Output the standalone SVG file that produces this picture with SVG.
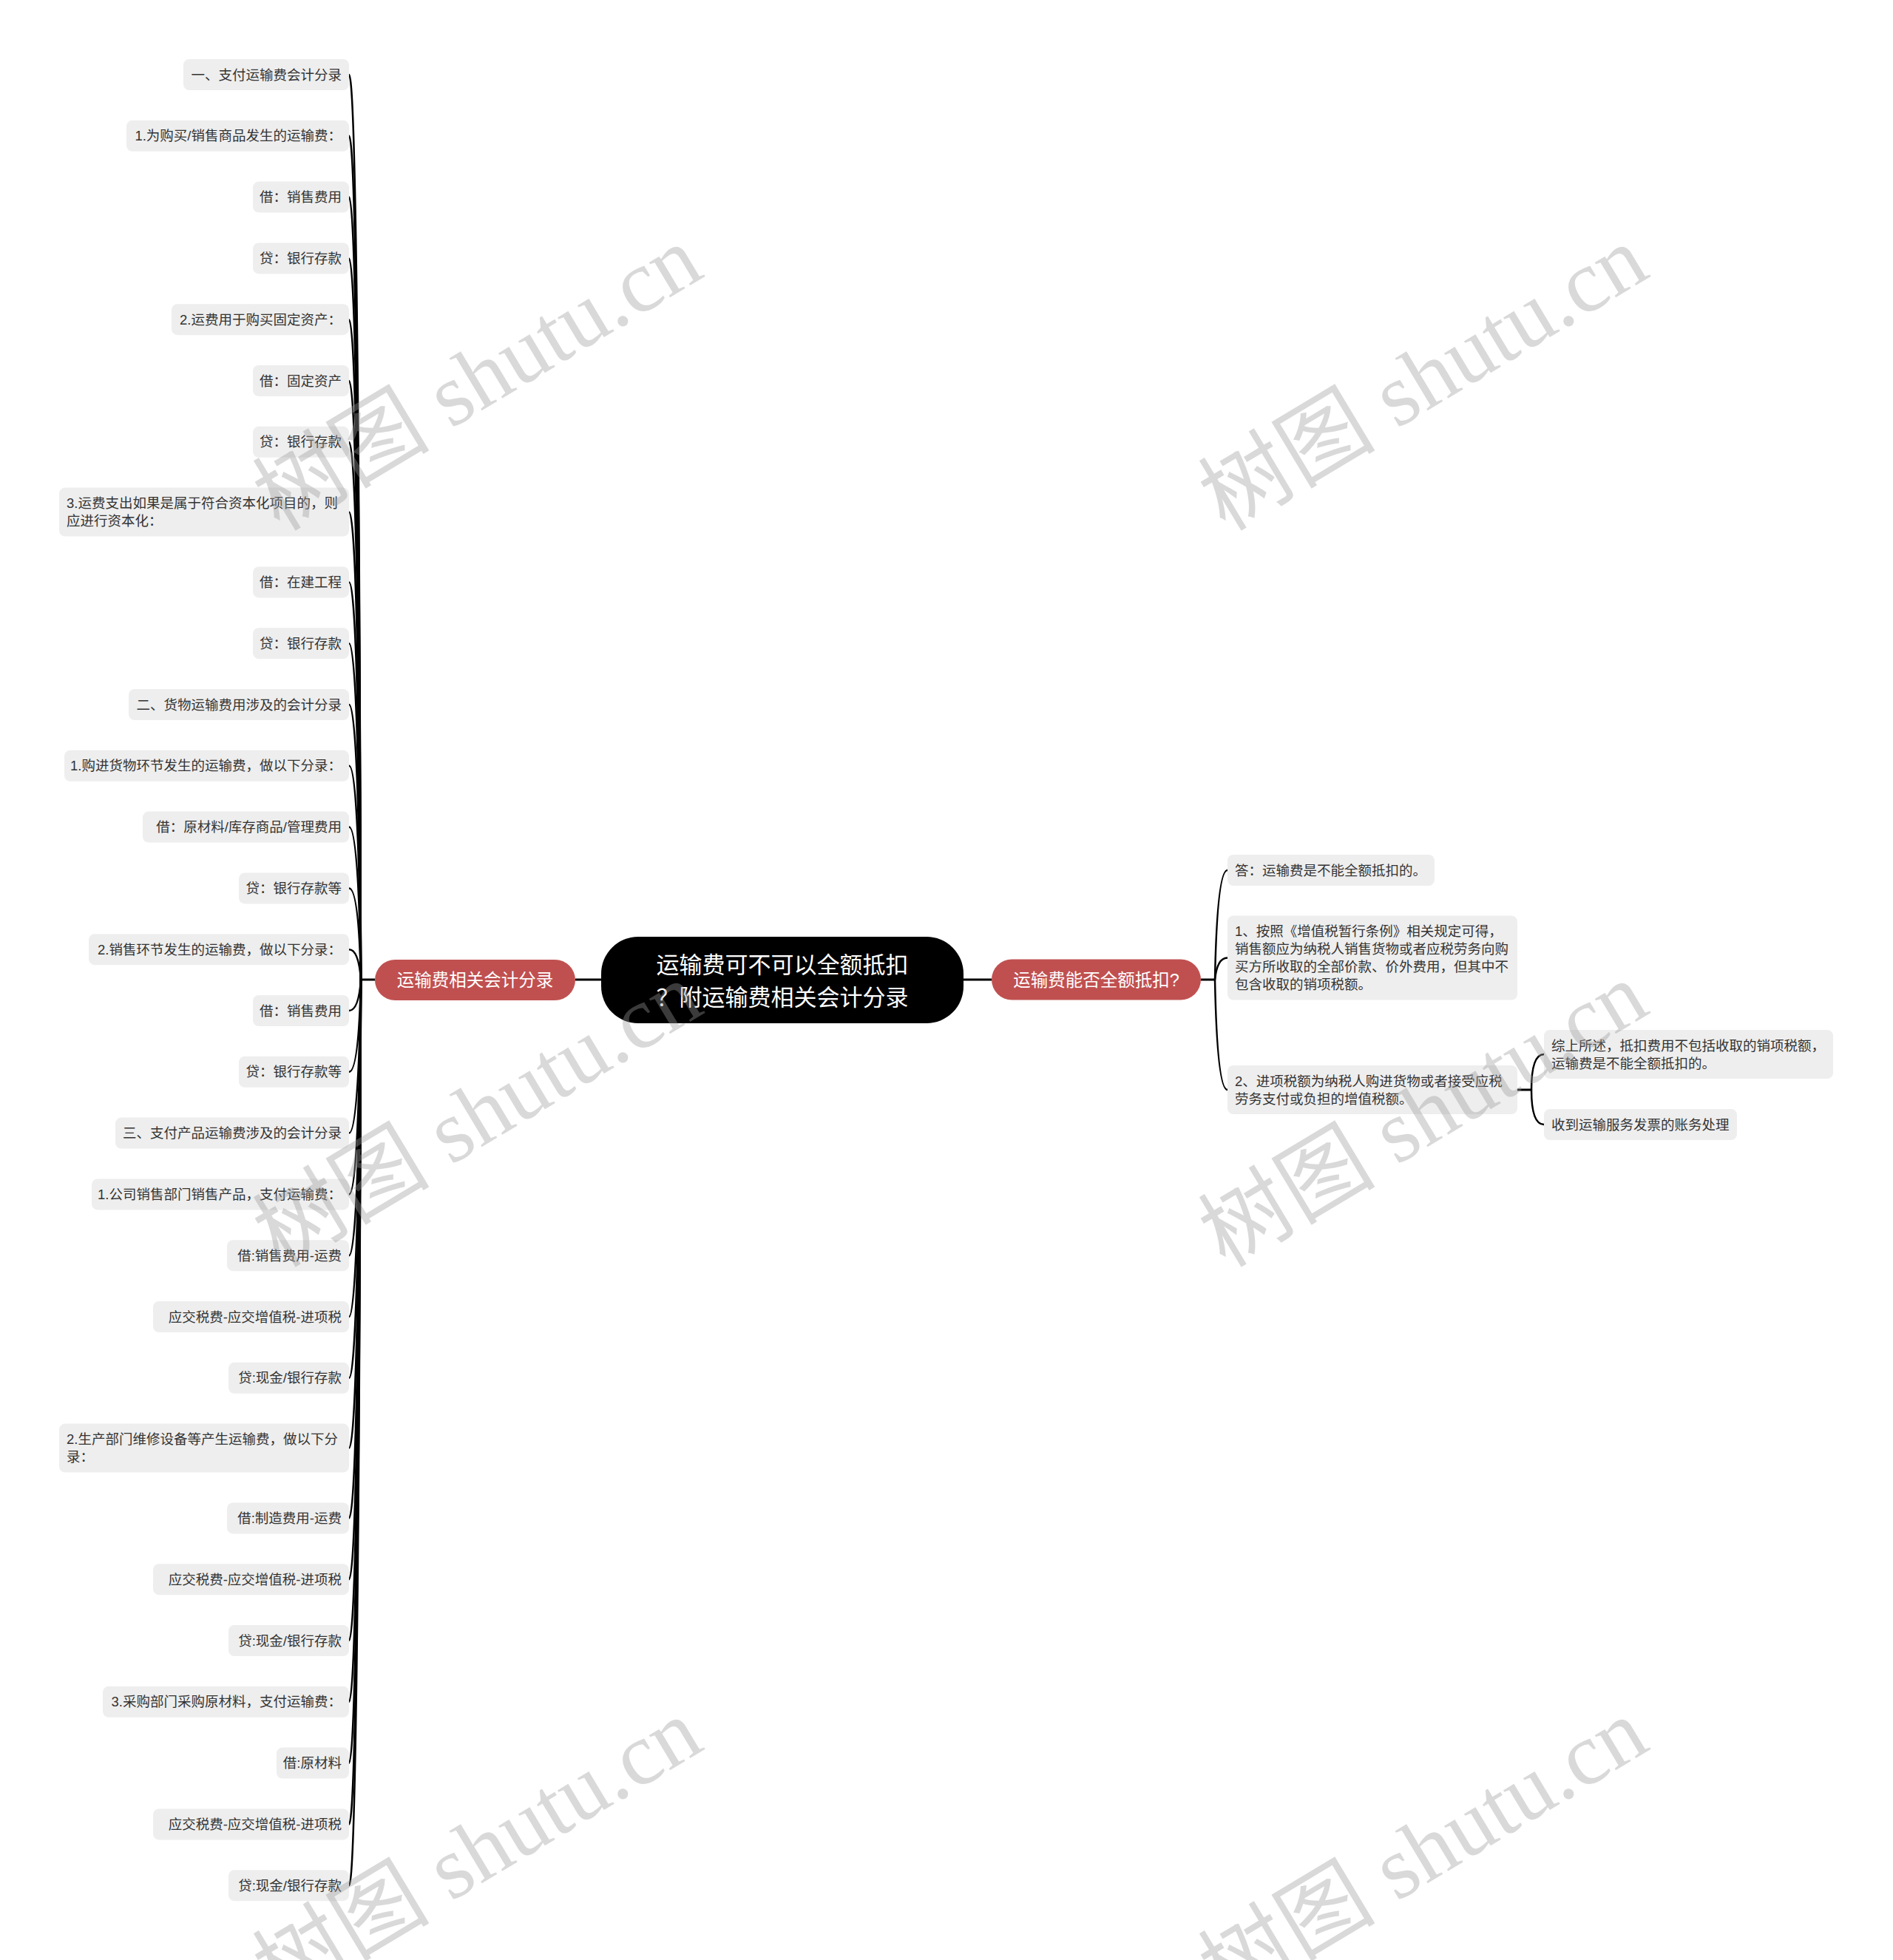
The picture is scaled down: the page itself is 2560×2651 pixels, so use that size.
<svg xmlns="http://www.w3.org/2000/svg" width="2560" height="2651" viewBox="0 0 2560 2651">
<style>
.bg{fill:#ffffff}
.box{fill:#eeeeee}
.t{font-family:"Liberation Sans","Noto Sans CJK SC",sans-serif;font-size:18.5px;fill:#333333}
.te{text-anchor:end}
.main{fill:#000000}
.mt{font-family:"Liberation Sans","Noto Sans CJK SC",sans-serif;font-size:31px;fill:#ffffff;text-anchor:middle}
.red{fill:#c05050}
.rt{font-family:"Liberation Sans","Noto Sans CJK SC",sans-serif;font-size:23.5px;fill:#ffffff;text-anchor:middle}
.ln{fill:none;stroke:#000000;stroke-width:2.5;stroke-linecap:round}
.hl{fill:none;stroke:#000000;stroke-width:3}
.wm{font-size:120px;fill:#9a9a9a;fill-opacity:0.38;text-anchor:middle}
.wmc{font-family:"Noto Sans CJK SC",sans-serif}
.wml{font-family:"Liberation Serif",serif}
</style>
<rect class="bg" x="0" y="0" width="2560" height="2651"/>

<g id="connectors">
<path class="hl" d="M778 1325H813M1303 1325H1341M507 1325H487M1624 1325H1644M2052 1474H2071"/>
<path class="ln" d="M488 1325Q485 101 472 101"/>
<path class="ln" d="M488 1325Q485 183.8 472 183.8"/>
<path class="ln" d="M488 1325Q485 266.6 472 266.6"/>
<path class="ln" d="M488 1325Q485 349.4 472 349.4"/>
<path class="ln" d="M488 1325Q485 432.2 472 432.2"/>
<path class="ln" d="M488 1325Q485 515 472 515"/>
<path class="ln" d="M488 1325Q485 597.8 472 597.8"/>
<path class="ln" d="M488 1325Q485 692.6 472 692.6"/>
<path class="ln" d="M488 1325Q485 787.4 472 787.4"/>
<path class="ln" d="M488 1325Q485 870.2 472 870.2"/>
<path class="ln" d="M488 1325Q485 953 472 953"/>
<path class="ln" d="M488 1325Q485 1035.8 472 1035.8"/>
<path class="ln" d="M488 1325Q485 1118.6 472 1118.6"/>
<path class="ln" d="M488 1325Q485 1201.4 472 1201.4"/>
<path class="ln" d="M488 1325Q485 1284.2 472 1284.2"/>
<path class="ln" d="M488 1325Q485 1367 472 1367"/>
<path class="ln" d="M488 1325Q485 1449.8 472 1449.8"/>
<path class="ln" d="M488 1325Q485 1532.6 472 1532.6"/>
<path class="ln" d="M488 1325Q485 1615.4 472 1615.4"/>
<path class="ln" d="M488 1325Q485 1698.2 472 1698.2"/>
<path class="ln" d="M488 1325Q485 1781 472 1781"/>
<path class="ln" d="M488 1325Q485 1863.8 472 1863.8"/>
<path class="ln" d="M488 1325Q485 1958.6 472 1958.6"/>
<path class="ln" d="M488 1325Q485 2053.4 472 2053.4"/>
<path class="ln" d="M488 1325Q485 2136.2 472 2136.2"/>
<path class="ln" d="M488 1325Q485 2219 472 2219"/>
<path class="ln" d="M488 1325Q485 2301.8 472 2301.8"/>
<path class="ln" d="M488 1325Q485 2384.6 472 2384.6"/>
<path class="ln" d="M488 1325Q485 2467.4 472 2467.4"/>
<path class="ln" d="M488 1325Q485 2550.2 472 2550.2"/>
<path class="ln" d="M1643 1325Q1646 1177 1660 1177"/>
<path class="ln" d="M1643 1325Q1646 1295.5 1660 1295.5"/>
<path class="ln" d="M1643 1325Q1646 1474 1660 1474"/>
<path class="ln" d="M2071 1474Q2071 1426 2088 1426"/>
<path class="ln" d="M2071 1474Q2071 1521 2088 1521"/>
</g>

<g id="root">
<rect class="main" x="813" y="1267" width="490" height="117" rx="50"/>
<text class="mt" x="1058" y="1315.5">运输费可不可以全额抵扣</text>
<text class="mt" x="1058" y="1359.5">？附运输费相关会计分录</text>
</g>

<g id="branch-left">
<rect class="red" x="507" y="1298" width="271" height="55" rx="27.5"/>
<text class="rt" x="642.5" y="1333.5">运输费相关会计分录</text>
</g>

<g id="branch-right">
<rect class="red" x="1341" y="1297.5" width="283" height="55" rx="27.5"/>
<text class="rt" x="1482.5" y="1333.5">运输费能否全额抵扣?</text>
</g>

<g id="l1"><rect class="box" x="248" y="80" width="224" height="42" rx="8"/><text class="t te" x="462" y="107.5">一、支付运输费会计分录</text></g>
<g id="l2"><rect class="box" x="171" y="162.8" width="301" height="42" rx="8"/><text class="t te" x="462" y="190.3">1.为购买/销售商品发生的运输费：</text></g>
<g id="l3"><rect class="box" x="342" y="245.6" width="130" height="42" rx="8"/><text class="t te" x="462" y="273.1">借：销售费用</text></g>
<g id="l4"><rect class="box" x="342" y="328.4" width="130" height="42" rx="8"/><text class="t te" x="462" y="355.9">贷：银行存款</text></g>
<g id="l5"><rect class="box" x="232" y="411.2" width="240" height="42" rx="8"/><text class="t te" x="462" y="438.7">2.运费用于购买固定资产：</text></g>
<g id="l6"><rect class="box" x="342" y="494" width="130" height="42" rx="8"/><text class="t te" x="462" y="521.5">借：固定资产</text></g>
<g id="l7"><rect class="box" x="342" y="576.8" width="130" height="42" rx="8"/><text class="t te" x="462" y="604.3">贷：银行存款</text></g>
<g id="l8"><rect class="box" x="80" y="659.6" width="392" height="66" rx="8"/><text class="t" x="90" y="687.1">3.运费支出如果是属于符合资本化项目的，则</text><text class="t" x="90" y="711.1">应进行资本化：</text></g>
<g id="l9"><rect class="box" x="342" y="766.4" width="130" height="42" rx="8"/><text class="t te" x="462" y="793.9">借：在建工程</text></g>
<g id="l10"><rect class="box" x="342" y="849.2" width="130" height="42" rx="8"/><text class="t te" x="462" y="876.7">贷：银行存款</text></g>
<g id="l11"><rect class="box" x="174" y="932" width="298" height="42" rx="8"/><text class="t te" x="462" y="959.5">二、货物运输费用涉及的会计分录</text></g>
<g id="l12"><rect class="box" x="87" y="1014.8" width="385" height="42" rx="8"/><text class="t te" x="462" y="1042.3">1.购进货物环节发生的运输费，做以下分录：</text></g>
<g id="l13"><rect class="box" x="193" y="1097.6" width="279" height="42" rx="8"/><text class="t te" x="462" y="1125.1">借：原材料/库存商品/管理费用</text></g>
<g id="l14"><rect class="box" x="323" y="1180.4" width="149" height="42" rx="8"/><text class="t te" x="462" y="1207.9">贷：银行存款等</text></g>
<g id="l15"><rect class="box" x="120" y="1263.2" width="352" height="42" rx="8"/><text class="t te" x="462" y="1290.7">2.销售环节发生的运输费，做以下分录：</text></g>
<g id="l16"><rect class="box" x="342" y="1346" width="130" height="42" rx="8"/><text class="t te" x="462" y="1373.5">借：销售费用</text></g>
<g id="l17"><rect class="box" x="323" y="1428.8" width="149" height="42" rx="8"/><text class="t te" x="462" y="1456.3">贷：银行存款等</text></g>
<g id="l18"><rect class="box" x="156" y="1511.6" width="316" height="42" rx="8"/><text class="t te" x="462" y="1539.1">三、支付产品运输费涉及的会计分录</text></g>
<g id="l19"><rect class="box" x="124" y="1594.4" width="348" height="42" rx="8"/><text class="t te" x="462" y="1621.9">1.公司销售部门销售产品，支付运输费：</text></g>
<g id="l20"><rect class="box" x="307" y="1677.2" width="165" height="42" rx="8"/><text class="t te" x="462" y="1704.7">借:销售费用-运费</text></g>
<g id="l21"><rect class="box" x="207" y="1760" width="265" height="42" rx="8"/><text class="t te" x="462" y="1787.5">应交税费-应交增值税-进项税</text></g>
<g id="l22"><rect class="box" x="309" y="1842.8" width="163" height="42" rx="8"/><text class="t te" x="462" y="1870.3">贷:现金/银行存款</text></g>
<g id="l23"><rect class="box" x="80" y="1925.6" width="392" height="66" rx="8"/><text class="t" x="90" y="1953.1">2.生产部门维修设备等产生运输费，做以下分</text><text class="t" x="90" y="1977.1">录：</text></g>
<g id="l24"><rect class="box" x="307" y="2032.4" width="165" height="42" rx="8"/><text class="t te" x="462" y="2059.9">借:制造费用-运费</text></g>
<g id="l25"><rect class="box" x="207" y="2115.2" width="265" height="42" rx="8"/><text class="t te" x="462" y="2142.7">应交税费-应交增值税-进项税</text></g>
<g id="l26"><rect class="box" x="309" y="2198" width="163" height="42" rx="8"/><text class="t te" x="462" y="2225.5">贷:现金/银行存款</text></g>
<g id="l27"><rect class="box" x="139" y="2280.8" width="333" height="42" rx="8"/><text class="t te" x="462" y="2308.3">3.采购部门采购原材料，支付运输费：</text></g>
<g id="l28"><rect class="box" x="374" y="2363.6" width="98" height="42" rx="8"/><text class="t te" x="462" y="2391.1">借:原材料</text></g>
<g id="l29"><rect class="box" x="207" y="2446.4" width="265" height="42" rx="8"/><text class="t te" x="462" y="2473.9">应交税费-应交增值税-进项税</text></g>
<g id="l30"><rect class="box" x="309" y="2529.2" width="163" height="42" rx="8"/><text class="t te" x="462" y="2556.7">贷:现金/银行存款</text></g>

<g id="r1"><rect class="box" x="1660" y="1156" width="280" height="42" rx="8"/><text class="t" x="1670" y="1183.5">答：运输费是不能全额抵扣的。</text></g>
<g id="r2"><rect class="box" x="1660" y="1238.5" width="392" height="114" rx="8"/>
<text class="t" x="1670" y="1266">1、按照《增值税暂行条例》相关规定可得，</text>
<text class="t" x="1670" y="1290">销售额应为纳税人销售货物或者应税劳务向购</text>
<text class="t" x="1670" y="1314">买方所收取的全部价款、价外费用，但其中不</text>
<text class="t" x="1670" y="1338">包含收取的销项税额。</text></g>
<g id="r3"><rect class="box" x="1660" y="1441" width="392" height="66" rx="8"/>
<text class="t" x="1670" y="1468.5">2、进项税额为纳税人购进货物或者接受应税</text>
<text class="t" x="1670" y="1492.5">劳务支付或负担的增值税额。</text></g>
<g id="r3a"><rect class="box" x="2088" y="1393" width="391" height="66" rx="8"/>
<text class="t" x="2098" y="1420.5">综上所述，抵扣费用不包括收取的销项税额，</text>
<text class="t" x="2098" y="1444.5">运输费是不能全额抵扣的。</text></g>
<g id="r3b"><rect class="box" x="2088" y="1500" width="261" height="42" rx="8"/><text class="t" x="2098" y="1527.5">收到运输服务发票的账务处理</text></g>

<g id="watermarks">
<text class="wm" transform="translate(646 512) rotate(-31)" y="40"><tspan class="wmc">树图</tspan><tspan class="wml"> shutu.cn</tspan></text>
<text class="wm" transform="translate(1925 512) rotate(-31)" y="40"><tspan class="wmc">树图</tspan><tspan class="wml"> shutu.cn</tspan></text>
<text class="wm" transform="translate(646 1508) rotate(-31)" y="40"><tspan class="wmc">树图</tspan><tspan class="wml"> shutu.cn</tspan></text>
<text class="wm" transform="translate(1925 1508) rotate(-31)" y="40"><tspan class="wmc">树图</tspan><tspan class="wml"> shutu.cn</tspan></text>
<text class="wm" transform="translate(646 2504) rotate(-31)" y="40"><tspan class="wmc">树图</tspan><tspan class="wml"> shutu.cn</tspan></text>
<text class="wm" transform="translate(1925 2504) rotate(-31)" y="40"><tspan class="wmc">树图</tspan><tspan class="wml"> shutu.cn</tspan></text>
</g>
</svg>
